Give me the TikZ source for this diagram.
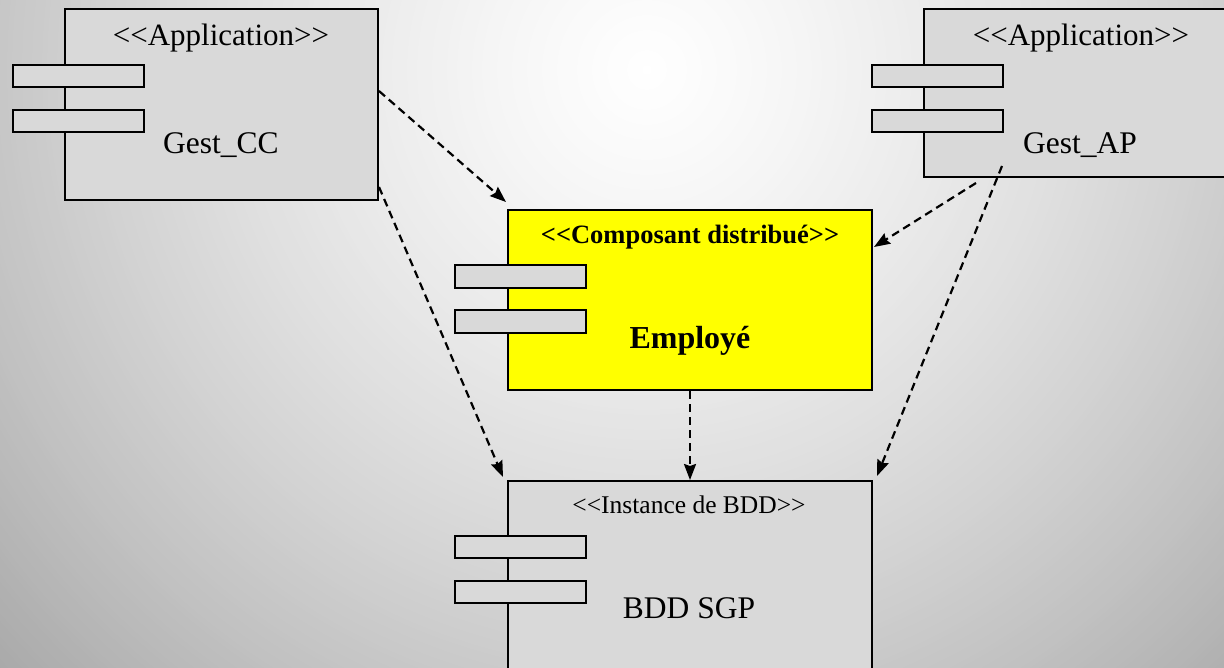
\documentclass[tikz,border=0pt]{standalone}
\usepackage{fontspec}
\setmainfont{Liberation Serif}
\usetikzlibrary{arrows.meta,calc}
\definecolor{boxgray}{HTML}{D9D9D9}
\definecolor{compyellow}{HTML}{FFFF00}
% keep the angle brackets of stereotypes from turning into guillemets
\newcommand\stereoL{<\kern0pt<}
\newcommand\stereoR{>\kern0pt>}
\tikzset{
  comp/.style={draw=black, line width=2pt, fill=boxgray, rectangle, inner sep=0pt},
  port/.style={draw=black, line width=2pt, fill=boxgray, rectangle, inner sep=0pt,
               minimum width=131pt, minimum height=22pt},
  dep/.style={draw=black, line width=2.2pt, dash pattern=on 8pt off 5pt,
              -{Stealth[length=16pt,width=12pt,inset=2pt]}},
  txtname/.style={anchor=base, inner sep=0pt, font=\fontsize{31.5}{36}\selectfont},
  txtstereo/.style={anchor=base, inner sep=0pt, font=\fontsize{31}{36}\selectfont},
  txtsmall/.style={anchor=base, inner sep=0pt, font=\fontsize{25.5}{30}\selectfont},
  txtboldsmall/.style={anchor=base, inner sep=0pt, font=\fontsize{26.5}{30}\bfseries\selectfont},
  txtbold/.style={anchor=base, inner sep=0pt, font=\fontsize{32}{36}\bfseries\selectfont},
}
\begin{document}
\begin{tikzpicture}[x=1pt,y=-1pt]
\useasboundingbox (0,0) rectangle (1224,667);
\begin{scope}
\clip (0,0) rectangle (1224,667);
% backdrop: radial fade from white to grey, drawn as concentric discs
\foreach \r in {900,895,...,5} {
  \pgfmathsetmacro\g{(255-0.0565*\r-0.000045*\r*\r)/255}
  \definecolor{ringc}{gray}{\g}
  \fill[ringc] (647,70) circle [radius=\r pt];
}

% Gest_CC
\node[comp, minimum width=313pt, minimum height=191pt] (cc) at (221.5,104.5) {};
\node[port] (ccp1) at (78.5,76) {};
\node[port] (ccp2) at (78.5,121) {};
\node[txtstereo] (ccst) at (221,45) {\stereoL Application\stereoR};
\node[txtname] (ccname) at (221,153) {Gest\_CC};

% Gest_AP
\node[comp, minimum width=316pt, minimum height=168pt] (ap) at (1082,93) {};
\node[port] (app1) at (937.5,76) {};
\node[port] (app2) at (937.5,121) {};
\node[txtstereo] (apst) at (1081,45) {\stereoL Application\stereoR};
\node[txtname] (apname) at (1080,153) {Gest\_AP};

% Employé
\node[comp, fill=compyellow, minimum width=364pt, minimum height=180pt] (emp) at (690,300) {};
\node[port, minimum height=23pt] (empp1) at (520.5,276.5) {};
\node[port, minimum height=23pt] (empp2) at (520.5,321.5) {};
\node[txtboldsmall] (empst) at (690,243) {\stereoL Composant distribué\stereoR};
\node[txtbold] (empname) at (690,348) {Employé};

% BDD SGP
\node[comp, minimum width=364pt, minimum height=219pt] (bdd) at (690,590.5) {};
\node[port] (bddp1) at (520.5,547) {};
\node[port] (bddp2) at (520.5,592) {};
\node[txtsmall] (bddst) at (689,513) {\stereoL Instance de BDD\stereoR};
\node[txtname] (bddname) at (689,618) {BDD SGP};

% dependency end points
\coordinate (s1) at ($(cc.north east)+(0,83)$);
\coordinate (e1) at ($(emp.north west)+(-1,-7)$);
\coordinate (s2) at ($(cc.north east)+(0,179)$);
\coordinate (e2) at ($(bdd.north west)+(-4,-3)$);
\coordinate (s4) at ($(ap.south west)+(53,5)$);
\coordinate (e4) at ($(emp.north east)+(1,38)$);
\coordinate (s5) at ($(ap.south west)+(79,-12)$);
\coordinate (e5) at ($(bdd.north east)+(4,-4)$);

% dependencies
\draw[dep] (s1) -- (e1);
\draw[dep] (s2) -- (e2);
\draw[dep] (emp.south) -- (bdd.north);
\draw[dep] (s4) -- (e4);
\draw[dep] (s5) -- (e5);
\end{scope}
\end{tikzpicture}
\end{document}
